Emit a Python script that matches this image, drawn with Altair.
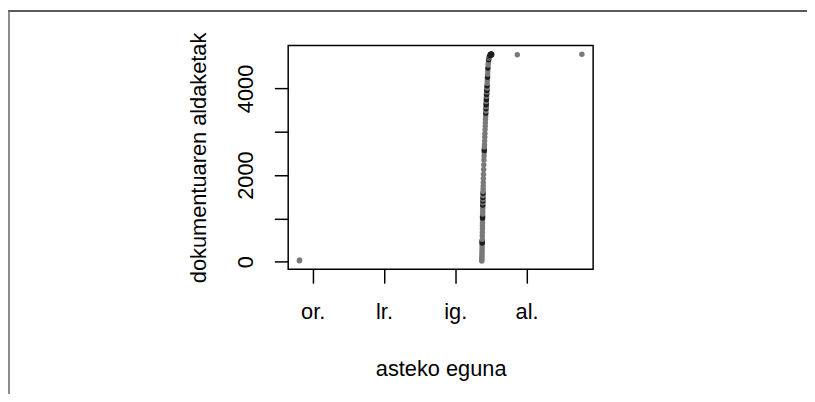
import altair as alt
import pandas as pd

# time in days since Friday 00:00 (or.), number of document edits
day = [
    -0.186, -0.185,
    2.371, 2.372, 2.373, 2.374, 2.374, 2.375, 2.376, 2.376, 2.377, 2.377,
    2.378, 2.378, 2.379, 2.379, 2.380, 2.381, 2.381, 2.382, 2.382, 2.383,
    2.383, 2.384, 2.385, 2.385, 2.386, 2.386, 2.387, 2.387, 2.388, 2.388,
    2.389, 2.390, 2.390, 2.391, 2.392, 2.393, 2.394, 2.396, 2.398, 2.400,
    2.402, 2.404, 2.406, 2.407, 2.408, 2.409, 2.410, 2.412, 2.414, 2.416,
    2.418, 2.420, 2.422, 2.424, 2.426, 2.428, 2.429, 2.431, 2.432, 2.433,
    2.434, 2.435, 2.436, 2.437, 2.438, 2.439, 2.440, 2.441, 2.442, 2.443,
    2.444, 2.446, 2.448, 2.450, 2.452, 2.454, 2.456, 2.458, 2.461, 2.464,
    2.468, 2.472, 2.477, 2.482, 2.487, 2.491, 2.495, 2.498, 2.501, 2.504,
    2.506, 2.508, 2.510, 2.500, 2.503, 2.506, 2.497, 2.494,
    2.870, 3.776,
]
edits = [
    20, 40,
    15, 40, 80, 120, 170, 230, 290, 350, 400, 430,
    460, 480, 520, 600, 680, 760, 830, 900, 960, 1010,
    1050, 1100, 1160, 1220, 1270, 1310, 1360, 1400, 1440, 1480,
    1530, 1580, 1620, 1680, 1750, 1830, 1920, 2020, 2130, 2240,
    2350, 2440, 2520, 2570, 2610, 2650, 2700, 2790, 2880, 2960,
    3050, 3130, 3210, 3290, 3360, 3430, 3480, 3530, 3580, 3620,
    3660, 3700, 3740, 3780, 3820, 3860, 3890, 3920, 3950, 3980,
    4010, 4060, 4120, 4190, 4260, 4330, 4400, 4470, 4540, 4600,
    4660, 4700, 4730, 4750, 4760, 4768, 4772, 4775, 4777, 4779,
    4780, 4781, 4782, 4790, 4795, 4790, 4785, 4780,
    4777, 4790,
]
kind = [
    "a", "a",
    "a", "a", "a", "a", "a", "a", "a", "a", "a", "b",
    "b", "b", "a", "a", "a", "a", "a", "a", "a", "b",
    "b", "a", "a", "a", "a", "b", "a", "b", "a", "b",
    "a", "b", "a", "a", "a", "a", "a", "a", "a", "a",
    "a", "a", "a", "b", "b", "a", "a", "a", "a", "a",
    "a", "a", "a", "a", "a", "b", "a", "b", "a", "b",
    "b", "a", "b", "b", "a", "b", "b", "a", "b", "b",
    "a", "b", "a", "a", "b", "a", "a", "b", "a", "a",
    "b", "a", "b", "a", "b", "b", "b", "b", "b", "b",
    "b", "b", "b", "b", "b", "b", "b", "b",
    "a", "a",
]

day_ticks = [0, 1, 2, 3]
day_labels = ["or.", "lr.", "ig.", "al."]
y_ticks = [0, 1000, 2000, 3000, 4000]

df = pd.DataFrame({"day": day, "edits": edits, "kind": kind})

label_expr = " : ".join(
    f"datum.value == {v} ? '{l}'" for v, l in zip(day_ticks, day_labels)
) + " : ''"

FONT = "Liberation Sans"
FS = 22

points = alt.Chart(df).mark_circle(size=30, opacity=1).encode(
    x=alt.X(
        "day:Q",
        scale=alt.Scale(domain=[-0.344, 3.934], nice=False, zero=False),
        axis=alt.Axis(
            values=day_ticks,
            labelExpr=label_expr,
            title="asteko eguna",
            grid=False,
            domain=False,
            tickSize=14,
            tickWidth=1.5,
            tickColor="black",
            labelPadding=36,
            labelBaseline="alphabetic",
            labelFont=FONT,
            labelFontSize=FS,
            labelColor="black",
            titleFont=FONT,
            titleFontSize=FS,
            titleFontWeight="normal",
            titleColor="black",
            titleX=154,
            titleY=107,
            titleAlign="center",
            titleBaseline="alphabetic",
        ),
    ),
    y=alt.Y(
        "edits:Q",
        scale=alt.Scale(domain=[-176, 4990], nice=False, zero=False),
        axis=alt.Axis(
            values=y_ticks,
            labelExpr="datum.value % 2000 == 0 ? datum.value : ''",
            title="dokumentuaren aldaketak",
            grid=False,
            domain=False,
            tickSize=14,
            tickWidth=1.5,
            tickColor="black",
            labelAngle=270,
            labelAlign="center",
            labelBaseline="alphabetic",
            labelPadding=22,
            labelFont=FONT,
            labelFontSize=FS,
            labelColor="black",
            titleFont=FONT,
            titleFontSize=FS,
            titleFontWeight="normal",
            titleColor="black",
            titleAngle=270,
            titleX=-84,
            titleY=113,
            titleAlign="center",
            titleBaseline="alphabetic",
        ),
    ),
    color=alt.Color(
        "kind:N",
        scale=alt.Scale(domain=["a", "b"], range=["#7a7a7a", "#1e1e1e"]),
        legend=None,
    ),
)

frame_top = alt.Chart(pd.DataFrame({"k": [0]})).mark_rule(
    color="#222222", strokeWidth=1.5
).encode(x=alt.value(-283), x2=alt.value(524), y=alt.value(-35))
frame_left = alt.Chart(pd.DataFrame({"k": [0]})).mark_rule(
    color="#666666", strokeWidth=1.5
).encode(x=alt.value(-282), y=alt.value(-36), y2=alt.value(360))

chart = (
    alt.layer(frame_top, frame_left, points)
    .properties(
        width=308,
        height=226,
        autosize=alt.AutoSizeParams(type="none"),
        padding={"left": 283, "top": 36, "right": 216, "bottom": 124},
        background="white",
    )
    .configure_view(stroke="black", strokeWidth=1.5)
)

chart.save("out.html", embed_options={"renderer": "svg", "actions": False})
